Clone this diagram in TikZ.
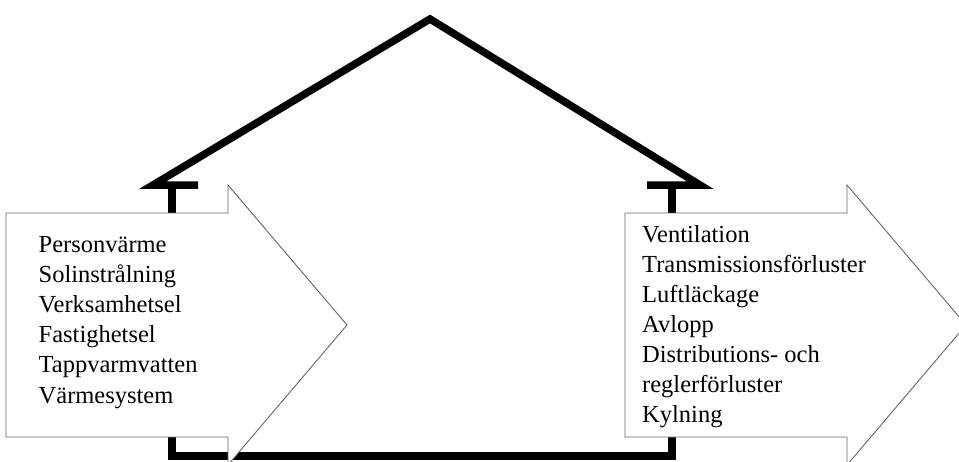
\documentclass[tikz,border=0pt]{standalone}
\usepackage{fontspec}
\setmainfont{Liberation Serif}
\begin{document}
\begin{tikzpicture}[x=1pt,y=-1pt,
  wall/.style={line width=7.5pt, line join=miter, line cap=butt},
  flow/.style={draw=black!60, fill=white, line width=0.9pt, line join=miter},
  item/.style={anchor=base west, inner sep=0pt, font=\fontsize{24.5}{29}\selectfont}]
\useasboundingbox (0,0) rectangle (959,461);

% house outline: roof with eaves, walls and floor
\coordinate (ridge) at (430,19);
\coordinate (eaveL) at (153,185);
\coordinate (eaveR) at (700,185);
\draw[wall] (198,185) -- (eaveL) -- (ridge) -- (eaveR) -- (647,185);
\draw[wall] (172,185) -- (172,456) -- (672,456) -- (672,185);

% incoming (left) and outgoing (right) block arrows
\foreach \dx/\nm in {0/inflow, 619/outflow} {
  \begin{scope}[xshift=\dx pt]
    \draw[flow] (6,213) -- (228,213) -- (228,185) -- (347,325)
      -- (228,465) -- (228,437) -- (6,437) -- cycle;
  \end{scope}
}

% gains
\foreach \t [count=\i] in {Personvärme, Solinstrålning, Verksamhetsel,
    Fastighetsel, Tappvarmvatten, Värmesystem}
  \node[item] (gain\i) at (38.5, 252 + 30.2*\i - 30.2) {\t};

% losses
\foreach \t [count=\i] in {Ventilation, Transmissionsförluster, Luftläckage,
    Avlopp, Distributions- och, reglerförluster, Kylning}
  \node[item] (loss\i) at (642, 242 + 30*\i - 30) {\t};
\end{tikzpicture}
\end{document}
